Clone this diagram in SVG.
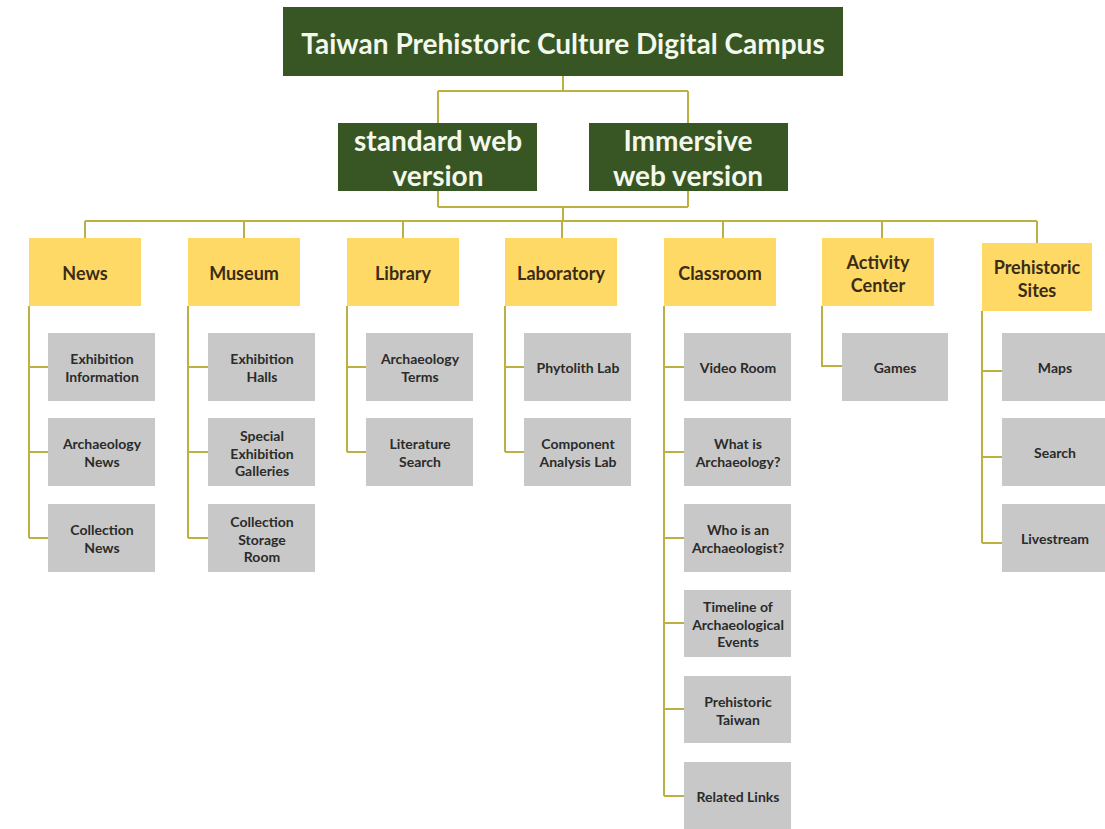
<svg xmlns="http://www.w3.org/2000/svg" width="1105" height="829" viewBox="0 0 1105 829">
  <style>
    .dk { fill: #375623; }
    .yl { fill: #ffd966; }
    .gy { fill: #c8c8c8; }
    .wt { fill: #f4f8ec; font-family: Lato, "Liberation Sans", sans-serif; font-weight: 700; text-anchor: middle; dominant-baseline: central; }
    .yt { fill: #3a2c16; font-family: Lato, "Liberation Sans", sans-serif; font-weight: 700; font-size: 18px; text-anchor: middle; dominant-baseline: central; }
    .gt { fill: #2b2b2b; font-family: Lato, "Liberation Sans", sans-serif; font-weight: 700; font-size: 14px; text-anchor: middle; dominant-baseline: central; }
    .cn { fill: none; stroke: #bcb040; stroke-width: 2; }
  </style>
  <rect width="1105" height="829" fill="#ffffff"/>

  <!-- connectors -->
  <g id="connectors" class="cn">
    <path d="M563 76 V91 M438 91 H688 M438 91 V123 M688 91 V123"/>
    <path d="M438 191 V207 M688 191 V207 M438 207 H688 M563 207 V221"/>
    <path d="M85 221 H1037 M85 221 V238 M244 221 V238 M403 221 V238 M562 221 V238 M723 221 V238 M882 221 V238 M1037 221 V243"/>
    <path d="M29 306 V538 M29 367 H48 M29 452 H48 M29 538 H48"/>
    <path d="M188 306 V538 M188 367 H208 M188 452 H208 M188 538 H208"/>
    <path d="M347 306 V452 M347 367 H366 M347 452 H366"/>
    <path d="M505 306 V452 M505 367 H524 M505 452 H524"/>
    <path d="M664 306 V796 M664 367 H684 M664 452 H684 M664 538 H684 M664 623 H684 M664 709 H684 M664 796 H684"/>
    <path d="M822 306 V366 H842"/>
    <path d="M982 311 V543 M982 371 H1002 M982 457 H1002 M982 543 H1002"/>
  </g>

  <!-- top level -->
  <g id="campus">
    <rect class="dk" x="283" y="7" width="560" height="69"/>
    <text class="wt" x="563" y="43" font-size="28">Taiwan Prehistoric Culture Digital Campus</text>
  </g>
  <g id="standard">
    <rect class="dk" x="338" y="123" width="199" height="68"/>
    <text class="wt" font-size="28"><tspan x="438" y="140">standard web</tspan><tspan x="438" y="175">version</tspan></text>
  </g>
  <g id="immersive">
    <rect class="dk" x="589" y="123" width="199" height="68"/>
    <text class="wt" font-size="28"><tspan x="688" y="140">Immersive</tspan><tspan x="688" y="175">web version</tspan></text>
  </g>

  <!-- sections -->
  <g id="news">
    <rect class="yl" x="29" y="238" width="112" height="68"/>
    <text class="yt" x="85" y="273">News</text>
  </g>
  <g id="museum">
    <rect class="yl" x="188" y="238" width="112" height="68"/>
    <text class="yt" x="244" y="273">Museum</text>
  </g>
  <g id="library">
    <rect class="yl" x="347" y="238" width="112" height="68"/>
    <text class="yt" x="403" y="273">Library</text>
  </g>
  <g id="laboratory">
    <rect class="yl" x="505" y="238" width="112" height="68"/>
    <text class="yt" x="561" y="273">Laboratory</text>
  </g>
  <g id="classroom">
    <rect class="yl" x="664" y="238" width="112" height="68"/>
    <text class="yt" x="720" y="273">Classroom</text>
  </g>
  <g id="activity-center">
    <rect class="yl" x="822" y="238" width="112" height="68"/>
    <text class="yt"><tspan x="878" y="262">Activity</tspan><tspan x="878" y="285">Center</tspan></text>
  </g>
  <g id="prehistoric-sites">
    <rect class="yl" x="982" y="243" width="110" height="68"/>
    <text class="yt"><tspan x="1037" y="267">Prehistoric</tspan><tspan x="1037" y="290">Sites</tspan></text>
  </g>

  <!-- News items -->
  <g id="exhibition-information">
    <rect class="gy" x="48" y="333" width="107" height="68"/>
    <text class="gt"><tspan x="102" y="358">Exhibition</tspan><tspan x="102" y="376">Information</tspan></text>
  </g>
  <g id="archaeology-news">
    <rect class="gy" x="48" y="418" width="107" height="68"/>
    <text class="gt"><tspan x="102" y="443">Archaeology</tspan><tspan x="102" y="461">News</tspan></text>
  </g>
  <g id="collection-news">
    <rect class="gy" x="48" y="504" width="107" height="68"/>
    <text class="gt"><tspan x="102" y="529">Collection</tspan><tspan x="102" y="547">News</tspan></text>
  </g>

  <!-- Museum items -->
  <g id="exhibition-halls">
    <rect class="gy" x="208" y="333" width="107" height="68"/>
    <text class="gt"><tspan x="262" y="358">Exhibition</tspan><tspan x="262" y="376">Halls</tspan></text>
  </g>
  <g id="special-exhibition-galleries">
    <rect class="gy" x="208" y="418" width="107" height="68"/>
    <text class="gt"><tspan x="262" y="435">Special</tspan><tspan x="262" y="453">Exhibition</tspan><tspan x="262" y="470">Galleries</tspan></text>
  </g>
  <g id="collection-storage-room">
    <rect class="gy" x="208" y="504" width="107" height="68"/>
    <text class="gt"><tspan x="262" y="521">Collection</tspan><tspan x="262" y="539">Storage</tspan><tspan x="262" y="556">Room</tspan></text>
  </g>

  <!-- Library items -->
  <g id="archaeology-terms">
    <rect class="gy" x="366" y="333" width="107" height="68"/>
    <text class="gt"><tspan x="420" y="358">Archaeology</tspan><tspan x="420" y="376">Terms</tspan></text>
  </g>
  <g id="literature-search">
    <rect class="gy" x="366" y="418" width="107" height="68"/>
    <text class="gt"><tspan x="420" y="443">Literature</tspan><tspan x="420" y="461">Search</tspan></text>
  </g>

  <!-- Laboratory items -->
  <g id="phytolith-lab">
    <rect class="gy" x="524" y="333" width="107" height="68"/>
    <text class="gt" x="578" y="367">Phytolith Lab</text>
  </g>
  <g id="component-analysis-lab">
    <rect class="gy" x="524" y="418" width="107" height="68"/>
    <text class="gt"><tspan x="578" y="443">Component</tspan><tspan x="578" y="461">Analysis Lab</tspan></text>
  </g>

  <!-- Classroom items -->
  <g id="video-room">
    <rect class="gy" x="684" y="333" width="107" height="68"/>
    <text class="gt" x="738" y="367">Video Room</text>
  </g>
  <g id="what-is-archaeology">
    <rect class="gy" x="684" y="418" width="107" height="68"/>
    <text class="gt"><tspan x="738" y="443">What is</tspan><tspan x="738" y="461">Archaeology?</tspan></text>
  </g>
  <g id="who-is-an-archaeologist">
    <rect class="gy" x="684" y="504" width="107" height="68"/>
    <text class="gt"><tspan x="738" y="529">Who is an</tspan><tspan x="738" y="547">Archaeologist?</tspan></text>
  </g>
  <g id="timeline">
    <rect class="gy" x="684" y="590" width="107" height="67"/>
    <text class="gt"><tspan x="738" y="606">Timeline of</tspan><tspan x="738" y="624">Archaeological</tspan><tspan x="738" y="641">Events</tspan></text>
  </g>
  <g id="prehistoric-taiwan">
    <rect class="gy" x="684" y="676" width="107" height="67"/>
    <text class="gt"><tspan x="738" y="701">Prehistoric</tspan><tspan x="738" y="719">Taiwan</tspan></text>
  </g>
  <g id="related-links">
    <rect class="gy" x="684" y="762" width="107" height="67"/>
    <text class="gt" x="738" y="796">Related Links</text>
  </g>

  <!-- Activity Center items -->
  <g id="games">
    <rect class="gy" x="842" y="333" width="106" height="68"/>
    <text class="gt" x="895" y="367">Games</text>
  </g>

  <!-- Prehistoric Sites items -->
  <g id="maps">
    <rect class="gy" x="1002" y="333" width="106" height="68"/>
    <text class="gt" x="1055" y="367">Maps</text>
  </g>
  <g id="search">
    <rect class="gy" x="1002" y="418" width="106" height="68"/>
    <text class="gt" x="1055" y="452">Search</text>
  </g>
  <g id="livestream">
    <rect class="gy" x="1002" y="504" width="106" height="68"/>
    <text class="gt" x="1055" y="538">Livestream</text>
  </g>
</svg>
